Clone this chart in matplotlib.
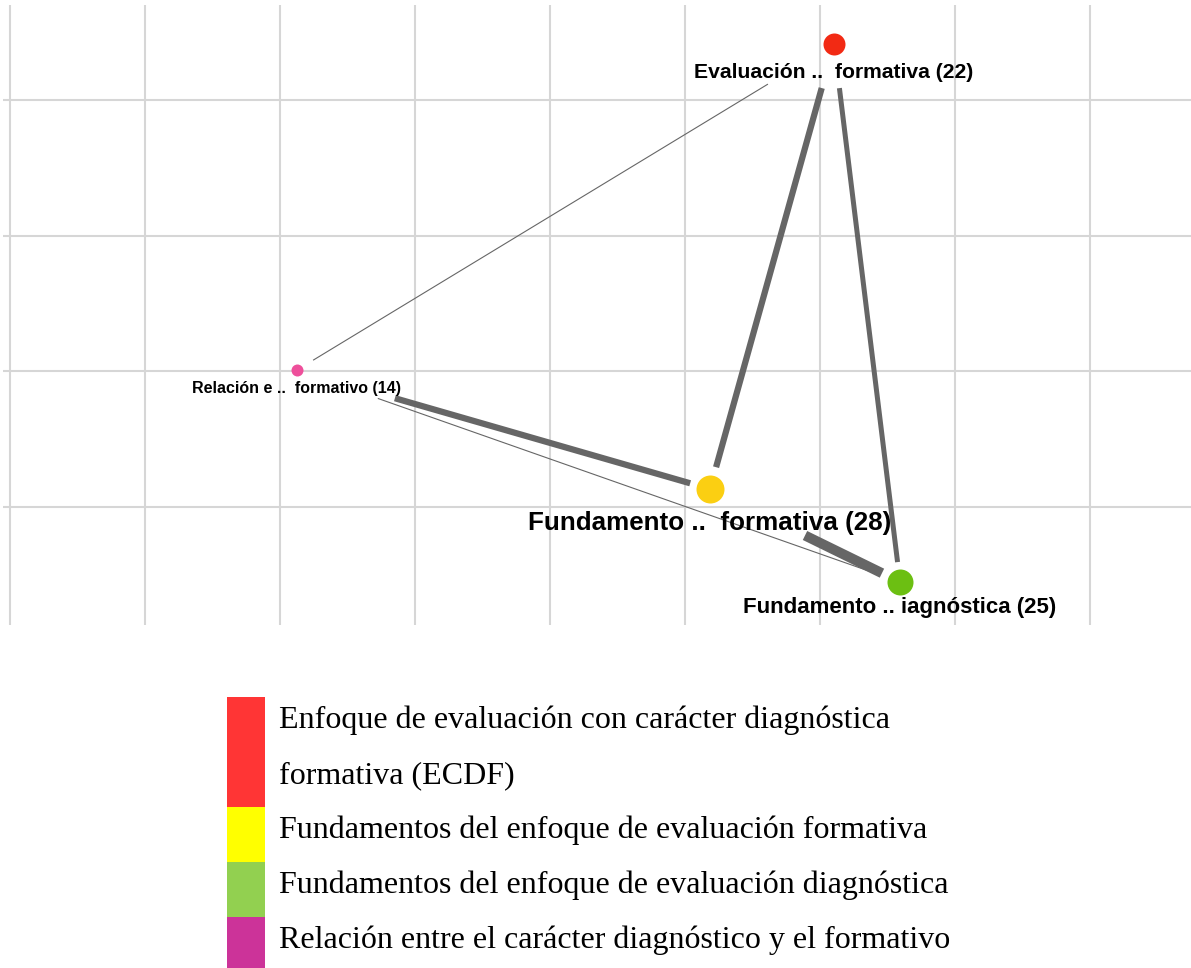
import matplotlib
matplotlib.use("Agg")
import matplotlib.pyplot as plt
from matplotlib.patches import Rectangle

# ---------------- data ----------------
node_labels = ["Evaluación ..  formativa (22)",
               "Relación e ..  formativo (14)",
               "Fundamento ..  formativa (28)",
               "Fundamento .. iagnóstica (25)"]
node_counts = [22, 14, 28, 25]
node_x = [834, 297, 710, 900]
node_y = [44, 370, 489, 582]
node_colors = ["#f22a14", "#ee4f9b", "#fbcf12", "#6cbf12"]

edge_src = [0, 0, 0, 1, 1, 2]
edge_dst = [1, 2, 3, 2, 3, 3]
edge_weights = [1, 5, 4, 5, 1, 8]

legend_labels = ["Enfoque de evaluación con carácter diagnóstica\nformativa (ECDF)",
                 "Fundamentos del enfoque de evaluación formativa",
                 "Fundamentos del enfoque de evaluación diagnóstica",
                 "Relación entre el carácter diagnóstico y el formativo"]
legend_colors = ["#ff3535", "#ffff00", "#92d050", "#cc3399"]
legend_lines = [2, 1, 1, 1]

grid_x = [10, 145, 280, 415, 550, 685, 820, 955, 1090]
grid_y = [100, 236, 371, 507]

# ---------------- style ----------------
W, H = 1191, 968
edge_trim = [(0.123, 0.970), (0.099, 0.951), (0.082, 0.963),
             (0.237, 0.952), (0.134, 0.950), (0.50, 0.905)]
node_diam_px = [22, 12, 28, 26]
label_size = [15.2, 11.5, 18.7, 16]
label_off = [29, 19, 34, 26]

fig = plt.figure(figsize=(W / 100, H / 100), dpi=100)
fig.patch.set_facecolor("white")

# network axes (pixel-like layout coordinates)
ax = fig.add_axes([3 / W, 1 - 625 / H, (W - 3) / W, 620 / H])
ax.set_xlim(3, W)
ax.set_ylim(625, 5)
ax.set_xticks(grid_x)
ax.set_yticks(grid_y)
ax.tick_params(length=0, labelbottom=False, labelleft=False)
for s in ax.spines.values():
    s.set_visible(False)
ax.grid(True, color="#d6d6d6", linewidth=1.5)
ax.set_axisbelow(True)

for k, (a, b) in enumerate(zip(edge_src, edge_dst)):
    t0, t1 = edge_trim[k]
    dx = node_x[b] - node_x[a]
    dy = node_y[b] - node_y[a]
    xs = [node_x[a] + t0 * dx, node_x[a] + t1 * dx]
    ys = [node_y[a] + t0 * dy, node_y[a] + t1 * dy]
    ax.plot(xs, ys, color="#666666", linewidth=0.9 * edge_weights[k] if edge_weights[k] > 1 else 0.8,
            solid_capstyle="butt", zorder=2)

for i in range(len(node_labels)):
    ax.plot(node_x[i], node_y[i], "o", markersize=node_diam_px[i] * 0.72,
            color=node_colors[i], markeredgewidth=0, zorder=3)
    ax.text(node_x[i], node_y[i] + label_off[i], node_labels[i], ha="center", va="center",
            fontsize=label_size[i], fontweight="bold", family="Liberation Sans",
            color="black", zorder=4)

# legend (pixel coordinates)
lax = fig.add_axes([0, 0, 1, 1])
lax.set_xlim(0, W)
lax.set_ylim(H, 0)
lax.axis("off")
row_h = 55
top = 697
row = 0
for lab, col, n in zip(legend_labels, legend_colors, legend_lines):
    y0 = top + row * row_h
    lax.add_patch(Rectangle((227, y0), 38, n * row_h, facecolor=col, edgecolor="none"))
    for j, line in enumerate(lab.split("\n")):
        lax.text(279, y0 + (j + 1) * row_h - 24, line, ha="left", va="baseline",
                 fontsize=23, family="Liberation Serif", color="black")
    row += n

fig.savefig("out.png", dpi=100, facecolor="white")
